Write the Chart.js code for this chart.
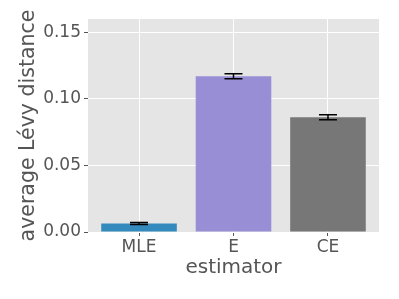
<!DOCTYPE html>
<html>
<head>
<meta charset="utf-8">
<script src="https://cdn.jsdelivr.net/npm/chart.js@4"></script>
<style>
  html, body { margin: 0; padding: 0; background: #fff; }
  #wrap { width: 399px; height: 299px; }
</style>
</head>
<body>
<div id="wrap"><canvas id="levyChart"></canvas></div>
<script>
const estimators = ['MLE', 'E', 'CE'];
const avgDistance = [0.0064, 0.117, 0.0862];
const errDistance = [0.0007, 0.0019, 0.0019];
const barColors = ['#348ABD', '#988ED5', '#777777'];
const yTicks = [0, 0.05, 0.10, 0.15];

// grey panel behind the plot like the ggplot style
const panelBg = {
    id: 'panelBg',
    beforeDraw(chart) {
        const a = chart.chartArea;
        const ctx = chart.ctx;
        ctx.save();
        ctx.fillStyle = '#E5E5E5';
        ctx.fillRect(a.left, a.top, a.right - a.left, a.bottom - a.top);
        ctx.restore();
    }
};

// error bars with caps
const errorBars = {
    id: 'errorBars',
    afterDatasetsDraw(chart) {
        const ctx = chart.ctx;
        const x = chart.scales.x, y = chart.scales.y;
        ctx.save();
        ctx.strokeStyle = '#000';
        ctx.lineWidth = 1.5;
        avgDistance.forEach((v, i) => {
            const px = x.getPixelForValue(i);
            const top = y.getPixelForValue(v + errDistance[i]);
            const bot = y.getPixelForValue(v - errDistance[i]);
            ctx.beginPath();
            ctx.moveTo(px, top); ctx.lineTo(px, bot);
            ctx.moveTo(px - 9, top); ctx.lineTo(px + 9, top);
            ctx.moveTo(px - 9, bot); ctx.lineTo(px + 9, bot);
            ctx.stroke();
        });
        ctx.restore();
    }
};

const points = estimators.map((name, i) => ({ x: i, y: avgDistance[i] }));

const ctx = document.getElementById('levyChart').getContext('2d');
new Chart(ctx, {
    type: 'bar',
    data: {
        datasets: [{
            data: points,
            backgroundColor: barColors,
            borderWidth: 0,
            categoryPercentage: 1,
            barPercentage: 0.8
        }]
    },
    options: {
        responsive: true,
        maintainAspectRatio: false,
        animation: false,
        layout: { padding: { top: 19, right: 20, left: 16, bottom: 15 } },
        plugins: {
            legend: { display: false },
            tooltip: { enabled: false }
        },
        scales: {
            x: {
                type: 'linear',
                offset: false,
                min: -0.54,
                max: 2.54,
                afterFit: s => { s.height = 52; },
                afterBuildTicks: s => { s.ticks = estimators.map((n, i) => ({ value: i })); },
                grid: { offset: false, color: '#FFFFFF', tickColor: '#555555', lineWidth: 1, tickLength: 4 },
                border: { display: false },
                ticks: {
                    color: '#555555',
                    font: { family: 'DejaVu Sans', size: 17 },
                    padding: 1,
                    callback: v => estimators[v]
                },
                title: { display: true, text: 'estimator', color: '#555555', font: { family: 'DejaVu Sans', size: 20 }, padding: { top: 0, bottom: 4 } }
            },
            y: {
                min: 0,
                max: 0.16,
                afterFit: s => { s.width = 72; },
                afterBuildTicks: s => { s.ticks = yTicks.map(v => ({ value: v })); },
                grid: { color: '#FFFFFF', tickColor: '#555555', lineWidth: 1, tickLength: 4 },
                border: { display: false },
                ticks: {
                    color: '#555555',
                    font: { family: 'DejaVu Sans', size: 17 },
                    padding: 3,
                    callback: v => v.toFixed(2)
                },
                title: { display: true, text: 'average Lévy distance', color: '#555555', font: { family: 'DejaVu Sans', size: 20.5 }, padding: { top: 0, bottom: 0 } }
            }
        }
    },
    plugins: [panelBg, errorBars]
});
</script>
</body>
</html>
